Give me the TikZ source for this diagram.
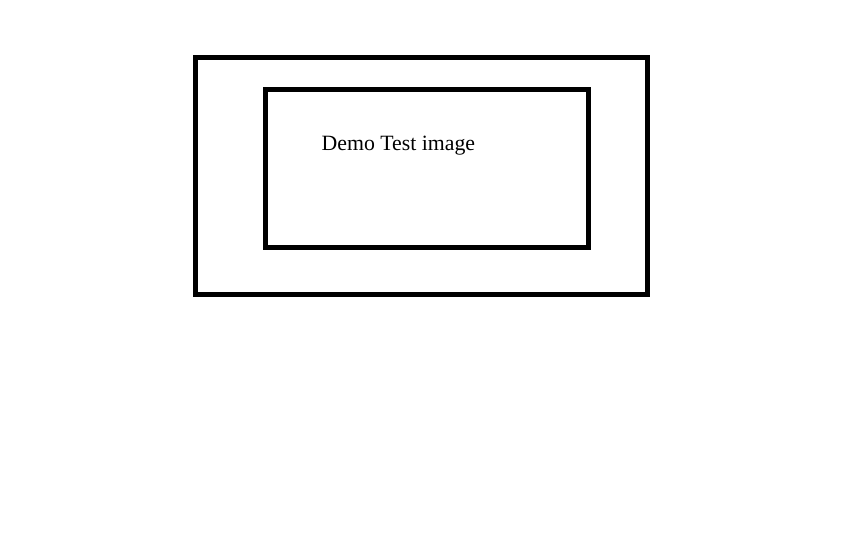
\documentclass[tikz,border=0pt]{standalone}
\usepackage{fontspec}
\setmainfont{Liberation Serif}
\usetikzlibrary{positioning}
\definecolor{DemoInk}{HTML}{000000}
\tikzset{
  demo/frame/.style={
    draw=DemoInk, line width=5pt, fill=none, rectangle,
    inner sep=0pt, outer sep=0pt
  },
  demo/label/.style={
    font=\fontsize{21.8}{26}\selectfont, text=DemoInk,
    inner sep=0pt, anchor=base west
  }
}
\begin{document}
\begin{tikzpicture}[x=1pt,y=-1pt]
  \useasboundingbox (0,0) rectangle (864,540);
  \node[demo/frame,minimum width=452pt,minimum height=236.5pt]
    (outer) at (421.5,176.25) {};
  \node[demo/frame,minimum width=323.5pt,minimum height=157.5pt]
    (inner) at (426.75,168.25) {};
  \node[demo/label] (title) at (321.5,150.5) {Demo Test image};
\end{tikzpicture}
\end{document}
